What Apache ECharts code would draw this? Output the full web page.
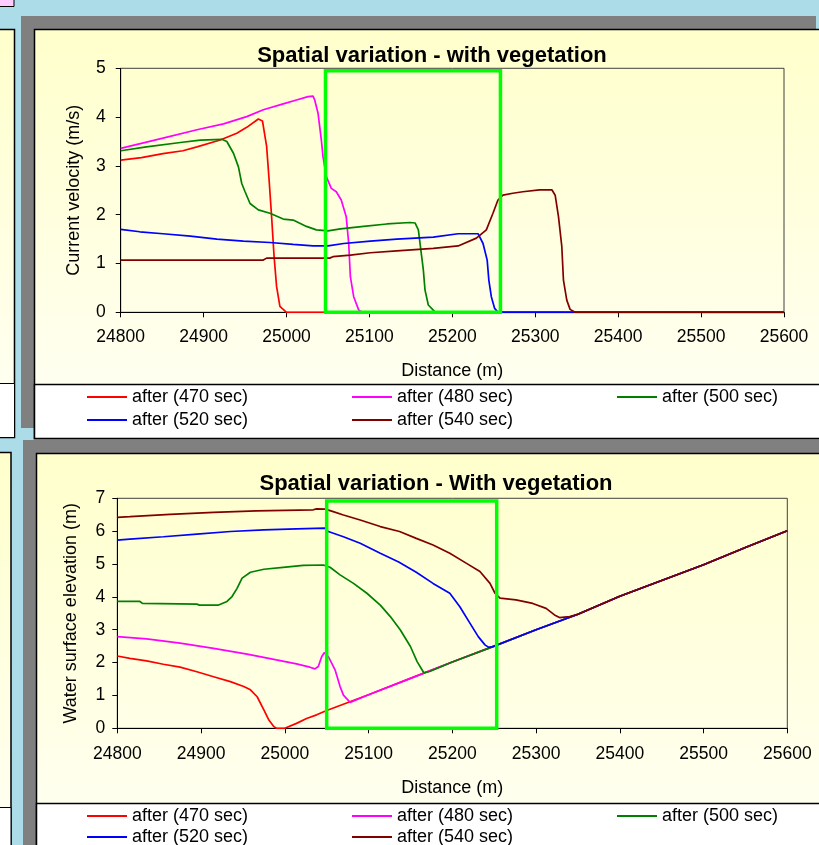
<!DOCTYPE html>
<html>
<head>
<meta charset="utf-8">
<script src="https://cdn.jsdelivr.net/npm/echarts@6/dist/echarts.min.js"></script>
<style>
html,body{margin:0;padding:0;background:#acdce8;}
#chart{width:819px;height:845px;}
</style>
</head>
<body>
<div id="chart"></div>
<script>
// ---------- data ----------
const seriesNames = ['after (470 sec)', 'after (480 sec)', 'after (500 sec)', 'after (520 sec)', 'after (540 sec)'];
const seriesColors = ['#ff0000', '#ff00ff', '#008000', '#0000ff', '#800000'];
const xTicks = [24800, 25600, 100];
const vegBoxX = [25047, 25258];
const vegBoxX2 = [25050, 25253];

// Current velocity (m/s) vs distance (m)
const vel470 = [[24800,3.12],[24825,3.17],[24851,3.25],[24875,3.31],[24892,3.39],[24920,3.53],[24940,3.67],[24952,3.79],[24966,3.96],[24971,3.92],[24976,3.4],[24979,2.71],[24982,1.96],[24985,1.14],[24988,0.53],[24992,0.12],[25000,0],[25600,0]];
const vel480 = [[24800,3.36],[24851,3.57],[24892,3.74],[24924,3.86],[24952,4.01],[24972,4.15],[24996,4.27],[25012,4.35],[25026,4.42],[25032,4.43],[25034,4.35],[25038,4.08],[25042,3.53],[25044,3.19],[25048,2.78],[25054,2.54],[25060,2.47],[25066,2.30],[25072,1.96],[25075,1.41],[25077,0.73],[25081,0.32],[25087,0.05],[25091,0],[25600,0]];
const vel500 = [[24800,3.31],[24831,3.39],[24872,3.48],[24896,3.53],[24922,3.545],[24928,3.50],[24936,3.26],[24942,2.98],[24946,2.64],[24950,2.47],[24956,2.23],[24966,2.10],[24980,2.03],[24996,1.91],[25008,1.89],[25024,1.76],[25036,1.69],[25050,1.67],[25065,1.71],[25093,1.76],[25121,1.81],[25149,1.84],[25155,1.83],[25159,1.69],[25162,1.28],[25165,0.87],[25167,0.46],[25171,0.15],[25179,0.01],[25600,0]];
const vel520 = [[24800,1.70],[24823,1.65],[24851,1.61],[24884,1.56],[24916,1.50],[24948,1.46],[24980,1.43],[25008,1.39],[25032,1.36],[25050,1.36],[25069,1.41],[25101,1.46],[25133,1.50],[25177,1.54],[25207,1.61],[25231,1.61],[25237,1.41],[25242,1.07],[25244,0.66],[25247,0.32],[25251,0.08],[25255,0],[25600,0]];
const vel540 = [[24800,1.07],[24972,1.07],[24976,1.11],[25052,1.11],[25056,1.14],[25077,1.17],[25101,1.22],[25133,1.26],[25177,1.31],[25207,1.36],[25229,1.52],[25241,1.69],[25249,2.03],[25255,2.30],[25261,2.40],[25273,2.44],[25285,2.47],[25305,2.51],[25320,2.51],[25324,2.40],[25328,1.96],[25332,1.35],[25334,0.66],[25338,0.25],[25342,0.06],[25348,0],[25600,0]];

// Water surface elevation (m) vs distance (m)
const bedLevel = [[25000,0],[25014,0.15],[25026,0.30],[25038,0.41],[25050,0.54],[25100,1.02],[25150,1.52],[25200,2.02],[25250,2.50],[25300,3.0],[25350,3.47],[25400,4.02],[25450,4.5],[25500,4.98],[25550,5.5],[25600,6.01]];
const wse470 = [[24800,2.20],[24815,2.13],[24835,2.05],[24855,1.95],[24875,1.86],[24895,1.72],[24915,1.57],[24935,1.42],[24951,1.27],[24959,1.17],[24967,0.96],[24975,0.56],[24981,0.25],[24987,0.05],[24990,0]];
const wse480 = [[24800,2.79],[24835,2.72],[24875,2.59],[24915,2.43],[24955,2.26],[24990,2.08],[25014,1.96],[25030,1.86],[25036,1.81],[25040,1.88],[25044,2.18],[25047,2.30],[25052,2.18],[25060,1.78],[25066,1.27],[25070,1.01],[25078,0.79]];
const wse500 = [[24800,3.86],[24827,3.86],[24830,3.80],[24895,3.78],[24898,3.75],[24921,3.75],[24931,3.86],[24937,4.01],[24943,4.26],[24949,4.57],[24959,4.75],[24975,4.84],[24998,4.90],[25022,4.96],[25046,4.97],[25054,4.90],[25066,4.67],[25082,4.41],[25098,4.11],[25114,3.75],[25126,3.40],[25138,2.99],[25150,2.49],[25158,2.03],[25166,1.69],[25173,1.73]];
const wse520 = [[24800,5.73],[24815,5.76],[24855,5.83],[24895,5.91],[24935,5.99],[24975,6.04],[25014,6.07],[25048,6.09],[25052,5.99],[25070,5.83],[25090,5.63],[25114,5.33],[25136,5.06],[25157,4.75],[25177,4.41],[25197,4.11],[25209,3.70],[25221,3.20],[25231,2.79],[25239,2.54],[25243,2.47],[25248,2.48]];
const wse540 = [[24800,6.42],[24815,6.44],[24863,6.51],[24915,6.57],[24966,6.62],[25034,6.65],[25038,6.68],[25048,6.67],[25056,6.61],[25070,6.49],[25090,6.34],[25114,6.14],[25137,5.99],[25157,5.78],[25177,5.58],[25197,5.33],[25217,5.02],[25233,4.77],[25245,4.41],[25251,4.11],[25257,3.96],[25276,3.91],[25296,3.80],[25312,3.65],[25322,3.45],[25328,3.37],[25340,3.40]];

// ---------- build ----------
function withBed(pts){
  const last = pts[pts.length-1][0];
  return pts.concat(bedLevel.filter(p => p[0] > last));
}
const velData = [vel470, vel480, vel500, vel520, vel540];
const wseData = [wse470, wse480, wse500, wse520, wse540].map(withBed);

const FONT = 'Liberation Sans, Arial, sans-serif';
const chart = echarts.init(document.getElementById('chart'), null, {renderer:'canvas'});

function panelGrad(){
  return new echarts.graphic.LinearGradient(0,0,0,1,[{offset:0,color:'#ffffcc'},{offset:1,color:'#fffff6'}]);
}

const series = [];
velData.forEach((d,i)=>{
  series.push({name:seriesNames[i], type:'line', xAxisIndex:0, yAxisIndex:0, data:d, showSymbol:false, symbol:'none',
    lineStyle:{color:seriesColors[i], width:1.7}, itemStyle:{color:seriesColors[i]}, z:3+i});
});
wseData.forEach((d,i)=>{
  series.push({name:seriesNames[i], type:'line', xAxisIndex:1, yAxisIndex:1, data:d, showSymbol:false, symbol:'none',
    lineStyle:{color:seriesColors[i], width:1.7}, itemStyle:{color:seriesColors[i]}, z:3+i});
});
// vegetation zone boxes
series.push({type:'line', xAxisIndex:0, yAxisIndex:0, data:[], z:20,
  markArea:{silent:true, z:20, itemStyle:{color:'rgba(0,0,0,0)', borderColor:'#00ff00', borderWidth:3.5},
    data:[[{xAxis:vegBoxX[0], yAxis:4.95},{xAxis:vegBoxX[1], yAxis:0}]]}});
series.push({type:'line', xAxisIndex:1, yAxisIndex:1, data:[], z:20,
  markArea:{silent:true, z:20, itemStyle:{color:'rgba(0,0,0,0)', borderColor:'#00ff00', borderWidth:3.5},
    data:[[{xAxis:vegBoxX2[0], yAxis:6.92},{xAxis:vegBoxX2[1], yAxis:0}]]}});

function xAxisOpt(gi, labelMargin, nameGap){
  return {gridIndex:gi, type:'value', min:xTicks[0], max:xTicks[1], interval:xTicks[2],
    axisLine:{show:true, onZero:false, lineStyle:{color:'#000', width:1}},
    axisTick:{show:true, length:5, lineStyle:{color:'#000'}},
    axisLabel:{color:'#000', fontSize:17.5, fontFamily:FONT, margin:labelMargin, formatter:v => String(v)},
    splitLine:{show:false},
    name:'Distance (m)', nameLocation:'middle', nameGap:nameGap,
    nameTextStyle:{color:'#000', fontSize:18, fontFamily:FONT}};
}
function yAxisOpt(gi, max, name, labelMargin, gap){
  return {gridIndex:gi, type:'value', min:0, max:max, interval:1,
    axisLine:{show:true, onZero:false, lineStyle:{color:'#000', width:1}},
    axisTick:{show:true, length:5, lineStyle:{color:'#000'}},
    axisLabel:{color:'#000', fontSize:17.5, fontFamily:FONT, margin:labelMargin},
    splitLine:{show:false},
    name:name, nameLocation:'middle', nameGap:gap, nameRotate:90,
    nameTextStyle:{color:'#000', fontSize:18, fontFamily:FONT}};
}

const legendPos = [[87,388],[352,388],[617,388],[87,411],[352,411]];
const legendPos2 = [[87,807],[352,807],[617,807],[87,828],[352,828]];
const legends = [];
[legendPos, legendPos2].forEach(pos=>{
  pos.forEach((p,i)=>{
    legends.push({data:[seriesNames[i]], left:p[0], top:p[1], padding:0, icon:'rect', itemWidth:40, itemHeight:2,
      selectedMode:false, textStyle:{color:'#000', fontSize:18, fontFamily:FONT}});
  });
});

const graphics = [
  // pink tab top-left
  {type:'rect', shape:{x:-2, y:-2, width:16, height:8.5}, style:{fill:'#ffccff', stroke:'#000', lineWidth:1}, z:-10},
  // left partial panel (top)
  {type:'rect', shape:{x:-5, y:29.5, width:19.5, height:408}, style:{fill:panelGrad(), stroke:'#000', lineWidth:1.5}, z:-10},
  {type:'rect', shape:{x:-5, y:383.5, width:19.5, height:54}, style:{fill:'#ffffff', stroke:'#000', lineWidth:1}, z:-9},
  // top panel shadow + panel
  {type:'rect', shape:{x:21, y:16, width:795, height:412}, style:{fill:'#808080'}, z:-10},
  {type:'rect', shape:{x:34.5, y:29.5, width:800, height:409}, style:{fill:panelGrad(), stroke:'#000', lineWidth:1.5}, z:-9},
  {type:'rect', shape:{x:34.5, y:384.5, width:800, height:54}, style:{fill:'#ffffff', stroke:'#000', lineWidth:1.5}, z:-8},
  // left partial panel (bottom)
  {type:'rect', shape:{x:-5, y:452.5, width:16, height:420}, style:{fill:panelGrad(), stroke:'#000', lineWidth:1.5}, z:-10},
  {type:'rect', shape:{x:-5, y:807.5, width:16, height:60}, style:{fill:'#ffffff', stroke:'#000', lineWidth:1}, z:-9},
  // bottom panel shadow + panel
  {type:'rect', shape:{x:23, y:440, width:800, height:420}, style:{fill:'#808080'}, z:-10},
  {type:'rect', shape:{x:36.5, y:453.5, width:800, height:420}, style:{fill:panelGrad(), stroke:'#000', lineWidth:1.5}, z:-9},
  {type:'rect', shape:{x:36.5, y:803.5, width:800, height:70}, style:{fill:'#ffffff', stroke:'#000', lineWidth:1.5}, z:-8}
];

chart.setOption({
  animation:false,
  backgroundColor:'#acdce8',
  title:[
    {text:'Spatial variation - with vegetation', left:432, top:45, textAlign:'center', padding:0,
      textStyle:{fontSize:22, fontWeight:'bold', fontFamily:FONT, color:'#000'}},
    {text:'Spatial variation - With vegetation', left:436, top:473, textAlign:'center', padding:0,
      textStyle:{fontSize:22, fontWeight:'bold', fontFamily:FONT, color:'#000'}}
  ],
  grid:[
    {left:120.7, top:68.3, width:663.3, height:244, show:true, borderColor:'#404040', borderWidth:1, backgroundColor:'transparent'},
    {left:117.3, top:498.3, width:670, height:230, show:true, borderColor:'#404040', borderWidth:1, backgroundColor:'transparent'}
  ],
  xAxis:[xAxisOpt(0, 16, 50), xAxisOpt(1, 17, 51)],
  yAxis:[yAxisOpt(0, 5, 'Current velocity (m/s)', 15, 38), yAxisOpt(1, 7, 'Water surface elevation (m)', 12, 37)],
  legend:legends,
  graphic:graphics,
  series:series
});
</script>
</body>
</html>
